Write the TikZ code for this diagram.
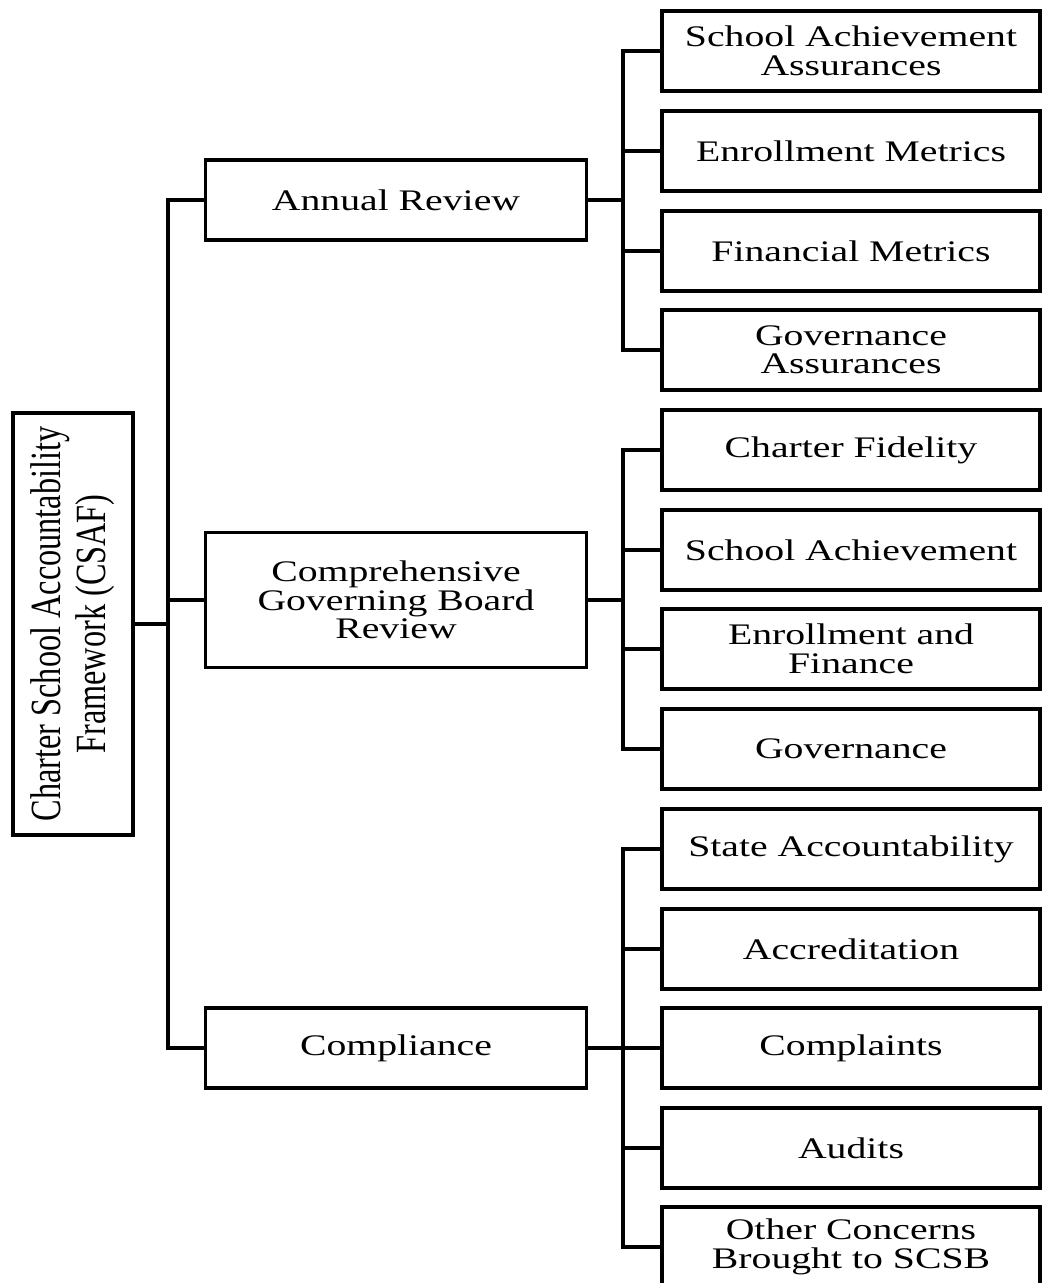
\documentclass[tikz,border=0pt]{standalone}
\usepackage{fontspec}
\setmainfont{Liberation Serif}[FakeStretch=1.33]
\newfontfamily\rootfont{Liberation Serif}[FakeStretch=0.75]

\tikzset{
    box/.style={draw, line width=1.9pt, align=center, inner sep=0pt,
        font=\fontsize{17}{16.2}\selectfont},
    mainbox/.style={box, minimum width=7.62cm, minimum height=1.6cm},
    subbox/.style={box, minimum width=7.56cm, minimum height=1.6cm},
    link/.style={line width=1.9pt},
}

\begin{document}
\begin{tikzpicture}[x=0.02cm, y=-0.02cm]
    \useasboundingbox (0, 0) rectangle (1045, 1283);

    \node[box, rotate=90, minimum width=8.44cm, minimum height=2.4cm,
        font=\fontsize{24.5}{25.6}\rootfont] (R0) at (73, 624)
        {Charter School Accountability\\Framework (CSAF)};

    \coordinate (T0) at (168, 0);
    \coordinate (T1) at (623, 0);

    \node[mainbox] (A0) at (396, 200) {Annual Review};
    \node[mainbox, minimum height=2.7cm] (B0) at (396, 600) {Comprehensive\\Governing Board\\Review};
    \node[mainbox] (C0) at (396, 1048) {Compliance};

    \draw[link] (R0.south) -- (R0.south -| T0);
    \draw[link] (A0.west) -- (A0.west -| T0) -- (C0.west -| T0) -- (C0.west);
    \draw[link] (B0.west -| T0) -- (B0.west);

    \node[subbox] (A1) at (851, 51) {School Achievement\\Assurances};
    \node[subbox] (A2) at (851, 151) {Enrollment Metrics};
    \node[subbox] (A3) at (851, 251) {Financial Metrics};
    \node[subbox] (A4) at (851, 350) {Governance\\Assurances};
    \draw[link] (A0.east) -- (A0.east -| T1);
    \draw[link] (A1.west) -- (A1.west -| T1) -- (A4.west -| T1) -- (A4.west);
    \draw[link] (A2.west -| T1) -- (A2.west);
    \draw[link] (A3.west -| T1) -- (A3.west);

    \node[subbox] (B1) at (851, 450) {Charter Fidelity};
    \node[subbox] (B2) at (851, 550) {School Achievement};
    \node[subbox] (B3) at (851, 649) {Enrollment and\\Finance};
    \node[subbox] (B4) at (851, 749) {Governance};
    \draw[link] (B0.east) -- (B0.east -| T1);
    \draw[link] (B1.west) -- (B1.west -| T1) -- (B4.west -| T1) -- (B4.west);
    \draw[link] (B2.west -| T1) -- (B2.west);
    \draw[link] (B3.west -| T1) -- (B3.west);

    \node[subbox] (C1) at (851, 849) {State Accountability};
    \node[subbox] (C2) at (851, 949) {Accreditation};
    \node[subbox] (C3) at (851, 1048) {Complaints};
    \node[subbox] (C4) at (851, 1148) {Audits};
    \node[subbox] (C5) at (851, 1247) {Other Concerns\\Brought to SCSB};
    \draw[link] (C0.east) -- (C3.west);
    \draw[link] (C1.west) -- (C1.west -| T1) -- (C5.west -| T1) -- (C5.west);
    \draw[link] (C2.west -| T1) -- (C2.west);
    \draw[link] (C4.west -| T1) -- (C4.west);
\end{tikzpicture}
\end{document}
